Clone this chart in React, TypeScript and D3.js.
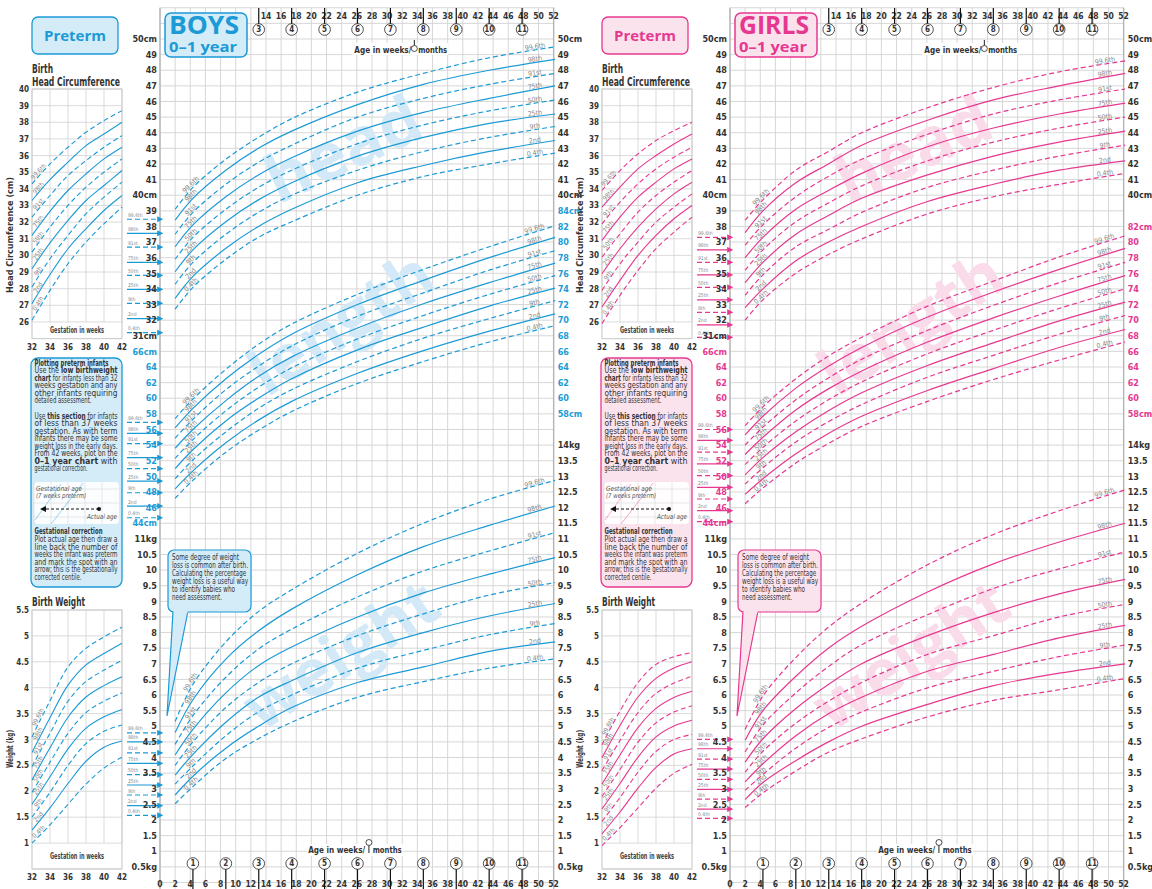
import React from 'react';
import * as d3 from 'd3';

// ---------------- data ----------------
const CENTILES = ['0.4th', '2nd', '9th', '25th', '50th', '75th', '91st', '98th', '99.6th'];
const DASHED = [true, false, true, false, true, false, true, false, true];
const AGE_WEEKS = [2, 4.35, 8.7, 13, 17.4, 26.1, 34.8, 43.5, 52.2];
const GEST_WEEKS = [32, 34, 36, 38, 40, 42];

const BOYS_HEAD = [
  [32.7, 34.1, 35.9, 37.3, 38.3, 40.0, 41.2, 42.0, 42.7],
  [33.4, 34.8, 36.6, 38.0, 39.1, 40.8, 41.9, 42.8, 43.5],
  [34.3, 35.7, 37.5, 38.9, 40.0, 41.6, 42.8, 43.7, 44.4],
  [35.1, 36.5, 38.3, 39.7, 40.8, 42.5, 43.7, 44.6, 45.2],
  [35.9, 37.3, 39.1, 40.5, 41.6, 43.3, 44.5, 45.4, 46.1],
  [36.7, 38.1, 39.9, 41.3, 42.4, 44.1, 45.3, 46.2, 47.0],
  [37.5, 38.9, 40.7, 42.1, 43.2, 45.0, 46.2, 47.1, 47.8],
  [38.4, 39.8, 41.6, 43.0, 44.1, 45.8, 47.1, 48.0, 48.7],
  [39.1, 40.5, 42.3, 43.7, 44.9, 46.6, 47.8, 48.8, 49.5],
];
const BOYS_LENGTH = [
  [47.2, 49.5, 53.1, 55.9, 58.3, 61.9, 64.7, 67.2, 69.3],
  [48.4, 50.7, 54.3, 57.2, 59.6, 63.2, 66.1, 68.6, 70.8],
  [49.7, 52.1, 55.7, 58.7, 61.1, 64.7, 67.7, 70.2, 72.5],
  [51.0, 53.4, 57.1, 60.0, 62.5, 66.2, 69.1, 71.8, 74.1],
  [52.3, 54.7, 58.4, 61.4, 63.9, 67.6, 70.6, 73.3, 75.7],
  [53.6, 56.0, 59.7, 62.8, 65.3, 69.0, 72.1, 74.8, 77.3],
  [54.9, 57.3, 61.1, 64.1, 66.7, 70.5, 73.5, 76.4, 78.9],
  [56.2, 58.7, 62.5, 65.6, 68.2, 72.0, 75.1, 78.0, 80.6],
  [57.4, 59.9, 63.7, 66.9, 69.5, 73.3, 76.5, 79.4, 82.1],
];
const BOYS_WEIGHT = [
  [2.52, 3.07, 3.97, 4.6, 5.13, 5.93, 6.43, 6.86, 7.16],
  [2.8, 3.4, 4.3, 5.0, 5.6, 6.4, 6.9, 7.4, 7.7],
  [3.15, 3.73, 4.7, 5.46, 6.0, 6.86, 7.43, 7.93, 8.29],
  [3.44, 4.1, 5.13, 5.93, 6.46, 7.36, 8.0, 8.53, 8.93],
  [3.75, 4.5, 5.6, 6.4, 7.0, 7.9, 8.6, 9.2, 9.6],
  [4.08, 4.9, 6.07, 6.94, 7.54, 8.5, 9.27, 9.87, 10.4],
  [4.42, 5.34, 6.57, 7.47, 8.11, 9.14, 9.97, 10.61, 11.2],
  [4.8, 5.85, 7.15, 8.05, 8.75, 9.85, 10.75, 11.43, 12.05],
  [5.15, 6.34, 7.7, 8.67, 9.37, 10.54, 11.5, 12.27, 12.87],
];
const GIRLS_HEAD = [
  [32.0, 33.3, 35.0, 36.2, 37.2, 38.8, 39.9, 40.7, 41.4],
  [32.8, 34.0, 35.8, 37.0, 38.0, 39.6, 40.7, 41.6, 42.2],
  [33.6, 34.9, 36.7, 37.8, 38.9, 40.5, 41.6, 42.5, 43.2],
  [34.4, 35.7, 37.5, 38.7, 39.8, 41.3, 42.5, 43.4, 44.1],
  [35.2, 36.5, 38.3, 39.5, 40.6, 42.2, 43.4, 44.3, 45.0],
  [36.0, 37.3, 39.1, 40.3, 41.4, 43.1, 44.3, 45.2, 45.9],
  [36.8, 38.1, 39.9, 41.2, 42.3, 43.9, 45.2, 46.1, 46.8],
  [37.6, 39.0, 40.8, 42.0, 43.2, 44.8, 46.1, 47.0, 47.8],
  [38.4, 39.7, 41.6, 42.8, 44.0, 45.6, 46.9, 47.9, 48.6],
];
const GIRLS_LENGTH = [
  [46.5, 48.5, 51.7, 54.2, 56.4, 59.6, 62.4, 64.9, 67.2],
  [47.7, 49.7, 52.9, 55.5, 57.7, 61.0, 63.8, 66.5, 68.8],
  [49.0, 51.1, 54.4, 57.0, 59.2, 62.7, 65.5, 68.2, 70.6],
  [50.2, 52.4, 55.7, 58.4, 60.7, 64.2, 67.1, 69.9, 72.3],
  [51.5, 53.7, 57.1, 59.8, 62.1, 65.7, 68.7, 71.5, 74.0],
  [52.8, 55.0, 58.5, 61.2, 63.5, 67.2, 70.3, 73.1, 75.7],
  [54.0, 56.3, 59.8, 62.6, 65.0, 68.7, 71.9, 74.8, 77.4],
  [55.3, 57.7, 61.3, 64.1, 66.5, 70.4, 73.6, 76.5, 79.2],
  [56.5, 58.9, 62.5, 65.4, 67.8, 71.8, 75.0, 78.1, 80.8],
];
const GIRLS_WEIGHT = [
  [2.4, 2.87, 3.57, 4.17, 4.6, 5.3, 5.83, 6.17, 6.53],
  [2.65, 3.2, 3.9, 4.5, 5.0, 5.7, 6.3, 6.7, 7.0],
  [2.95, 3.46, 4.3, 4.96, 5.46, 6.23, 6.76, 7.23, 7.6],
  [3.22, 3.8, 4.7, 5.4, 5.93, 6.76, 7.3, 7.83, 8.23],
  [3.53, 4.2, 5.1, 5.8, 6.4, 7.3, 7.9, 8.5, 8.9],
  [3.85, 4.6, 5.57, 6.34, 7.0, 7.9, 8.64, 9.24, 9.7],
  [4.18, 5.04, 6.07, 6.91, 7.61, 8.57, 9.41, 10.04, 10.58],
  [4.55, 5.5, 6.6, 7.5, 8.2, 9.3, 10.2, 10.9, 11.5],
  [4.9, 5.97, 7.2, 8.17, 8.94, 10.17, 11.14, 11.9, 12.57],
];

const BOYS_PRETERM_HEAD = [
  [26.1, 27.9, 29.5, 30.8, 31.9, 32.9],
  [27.1, 28.85, 30.4, 31.6, 32.7, 33.6],
  [28.1, 29.8, 31.2, 32.5, 33.5, 34.4],
  [29.2, 30.75, 32.1, 33.3, 34.2, 35.1],
  [30.2, 31.7, 33.0, 34.1, 35.0, 35.8],
  [31.2, 32.65, 33.9, 34.9, 35.8, 36.5],
  [32.3, 33.6, 34.8, 35.7, 36.5, 37.2],
  [33.3, 34.55, 35.6, 36.6, 37.3, 38.0],
  [34.3, 35.5, 36.5, 37.4, 38.1, 38.7],
];
const BOYS_PRETERM_WEIGHT = [
  [1.0, 1.35, 1.75, 2.14, 2.45, 2.66],
  [1.25, 1.68, 2.15, 2.58, 2.85, 2.97],
  [1.5, 1.98, 2.5, 2.92, 3.16, 3.28],
  [1.75, 2.28, 2.82, 3.22, 3.44, 3.58],
  [1.98, 2.56, 3.12, 3.52, 3.74, 3.9],
  [2.22, 2.84, 3.43, 3.82, 4.04, 4.21],
  [2.48, 3.12, 3.74, 4.12, 4.34, 4.53],
  [2.75, 3.42, 4.05, 4.44, 4.66, 4.86],
  [3.05, 3.75, 4.4, 4.76, 4.98, 5.17],
];
const GIRLS_PRETERM_HEAD = [
  [25.9, 27.6, 29.1, 30.4, 31.4, 32.3],
  [26.9, 28.5, 30.0, 31.2, 32.2, 33.0],
  [27.9, 29.5, 30.8, 32.0, 32.9, 33.7],
  [28.9, 30.4, 31.7, 32.8, 33.7, 34.4],
  [29.9, 31.3, 32.6, 33.6, 34.4, 35.1],
  [30.9, 32.3, 33.5, 34.4, 35.2, 35.8],
  [31.9, 33.2, 34.3, 35.2, 35.9, 36.5],
  [32.9, 34.1, 35.2, 36.0, 36.7, 37.3],
  [33.9, 35.1, 36.1, 36.9, 37.5, 38.0],
];
const GIRLS_PRETERM_WEIGHT = [
  [0.95, 1.3, 1.68, 2.06, 2.35, 2.52],
  [1.18, 1.6, 2.06, 2.46, 2.72, 2.82],
  [1.42, 1.88, 2.37, 2.77, 3.0, 3.1],
  [1.66, 2.15, 2.66, 3.05, 3.26, 3.37],
  [1.9, 2.42, 2.95, 3.32, 3.53, 3.65],
  [2.14, 2.7, 3.23, 3.6, 3.81, 3.93],
  [2.4, 2.98, 3.52, 3.89, 4.09, 4.22],
  [2.65, 3.27, 3.82, 4.18, 4.38, 4.5],
  [2.9, 3.55, 4.1, 4.45, 4.6, 4.68],
];

// birth centile arrows (0.4th .. 99.6th)
const BOYS_ARROW_HEAD = [31.2, 32.1, 33.08, 33.97, 34.87, 35.7, 36.67, 37.56, 38.46];
const BOYS_ARROW_LENGTH = [44.7, 46.2, 47.9, 49.4, 51.0, 52.4, 54.2, 55.5, 56.9];
const BOYS_ARROW_WEIGHT = [2.15, 2.46, 2.8, 3.12, 3.45, 3.81, 4.15, 4.5, 4.79];
const GIRLS_ARROW_HEAD = [30.9, 31.7, 32.5, 33.3, 34.1, 34.9, 35.7, 36.5, 37.3];
const GIRLS_ARROW_LENGTH = [44.2, 45.6, 47.1, 48.6, 50.1, 51.6, 53.1, 54.6, 56.0];
const GIRLS_ARROW_WEIGHT = [2.05, 2.35, 2.67, 2.98, 3.3, 3.63, 3.95, 4.28, 4.58];

// tick labels
const HEAD_LEFT_TICKS = [50, 49, 48, 47, 46, 45, 44, 43, 42, 41, 40, 39, 38, 37, 36, 35, 34, 33, 32, 31];
const HEAD_RIGHT_TICKS = [50, 49, 48, 47, 46, 45, 44, 43, 42, 41, 40];
const LENGTH_LEFT_TICKS = [66, 64, 62, 60, 58, 56, 54, 52, 50, 48, 46, 44];
const BOYS_LENGTH_RIGHT_TICKS = [84, 82, 80, 78, 76, 74, 72, 70, 68, 66, 64, 62, 60, 58];
const GIRLS_LENGTH_RIGHT_TICKS = [82, 80, 78, 76, 74, 72, 70, 68, 66, 64, 62, 60, 58];
const WEIGHT_LEFT_TICKS = [11, 10.5, 10, 9.5, 9, 8.5, 8, 7.5, 7, 6.5, 6, 5.5, 5, 4.5, 4, 3.5, 3, 2.5, 2, 1.5, 1, 0.5];
const WEIGHT_RIGHT_TICKS = [14, 13.5, 13, 12.5, 12, 11.5, 11, 10.5, 10, 9.5, 9, 8.5, 8, 7.5, 7, 6.5, 6, 5.5, 5, 4.5, 4, 3.5, 3, 2.5, 2, 1.5, 1, 0.5];
const WEEK_TICKS_BOTTOM = [0, 2, 4, 6, 8, 10, 12, 14, 16, 18, 20, 22, 24, 26, 28, 30, 32, 34, 36, 38, 40, 42, 44, 46, 48, 50, 52];
const WEEK_TICKS_TOP = [14, 16, 18, 20, 22, 24, 26, 28, 30, 32, 34, 36, 38, 40, 42, 44, 46, 48, 50, 52];
const MONTHS_BOTTOM = [1, 2, 3, 4, 5, 6, 7, 8, 9, 10, 11];
const MONTHS_TOP = [3, 4, 5, 6, 7, 8, 9, 10, 11];
const PRE_HEAD_TICKS = [40, 39, 38, 37, 36, 35, 34, 33, 32, 31, 30, 29, 28, 27, 26];
const PRE_WEIGHT_TICKS = [5.5, 5, 4.5, 4, 3.5, 3, 2.5, 2, 1.5, 1];

const INFO_LINES: [string, boolean][][] = [
  [['Plotting preterm infants', true]],
  [['Use the ', false], ['low birthweight', true]],
  [['chart', true], [' for infants less than 32', false]],
  [['weeks gestation and any', false]],
  [['other infants requiring', false]],
  [['detailed assessment.', false]],
  [['Use ', false], ['this section', true], [' for infants', false]],
  [['of less than 37 weeks', false]],
  [['gestation. As with term', false]],
  [['infants there may be some', false]],
  [['weight loss in the early days.', false]],
  [['From 42 weeks, plot on the', false]],
  [['0–1 year chart', true], [' with', false]],
  [['gestational correction.', false]],
];
const INFO_Y = [365.5, 373, 380.5, 388, 395.5, 403, 418.5, 426, 433.5, 441, 448.5, 456, 463.5, 471];
const INFO_W = [74, 83, 83, 83, 83, 57, 83, 83, 83, 83, 83, 83, 83, 53];
const CORR_LINES = [
  'Plot actual age then draw a',
  'line back the number of',
  'weeks the infant was preterm',
  'and mark the spot with an',
  'arrow; this is the gestationally',
  'corrected centile.',
];
const CORR_W = [83, 83, 83, 83, 83, 47];
const CALLOUT_LINES = [
  'Some degree of weight',
  'loss is common after birth.',
  'Calculating the percentage',
  'weight loss is a useful way',
  'to identify babies who',
  'need assessment.',
];
const CALLOUT_W = [67, 76, 74, 76, 63, 50];

// ---------------- layout constants ----------------
const FONT = "'Liberation Sans Narrow','DejaVu Sans Condensed','Arial Narrow',sans-serif";
const FONT_H = "'Open Sans','Noto Sans','DejaVu Sans',sans-serif";
const U = 15.62;
const Y0 = 39;
const KX = 7.57;
const rowY = (r: number) => Y0 + r * U;
const GRID = '#d2d2d2';
const TXT = '#333';

const interp = (xs: number[], vs: number[], x: number) => {
  for (let i = 0; i < xs.length - 1; i++) {
    if (x <= xs[i + 1]) {
      const t = (x - xs[i]) / (xs[i + 1] - xs[i]);
      return vs[i] + t * (vs[i + 1] - vs[i]);
    }
  }
  return vs[vs.length - 1];
};

type Cfg = {
  id: string; dx: number; color: string; fill: string; wm: string; title: string;
  head: number[][]; len: number[][]; wt: number[][]; pHead: number[][]; pWt: number[][];
  arrH: number[]; arrL: number[]; arrW: number[]; lenRight: number[];
};

function CurveSet({ data, xs, xScale, yScale, color, labelAt, labelSize, width }: any) {
  const line = d3.line<number>().x((_, i) => xScale(xs[i])).y((v) => yScale(v)).curve(d3.curveCatmullRom.alpha(0.5));
  return (
    <g>
      {data.map((row: number[], i: number) => (
        <path key={'c' + i} d={line(row) || ''} fill="none" stroke={color} strokeWidth={width || 1.2}
          strokeDasharray={DASHED[i] ? '5,3' : undefined} />
      ))}
      {labelAt.map((w: number, li: number) =>
        data.map((row: number[], i: number) => {
          const x1 = xScale(w - 0.6), x2 = xScale(w + 0.6);
          const y1 = yScale(interp(xs, row, w - 0.6)), y2 = yScale(interp(xs, row, w + 0.6));
          const ang = (Math.atan2(y2 - y1, x2 - x1) * 180) / Math.PI;
          const cx = xScale(w), cy = yScale(interp(xs, row, w));
          return (
            <text key={'l' + li + '-' + i} transform={`translate(${cx},${cy}) rotate(${ang})`} dy={-1.2}
              textAnchor="middle" fontSize={labelSize} fill="#8a8a8a" fontFamily={FONT}>{CENTILES[i]}</text>
          );
        })
      )}
    </g>
  );
}

function Preterm({ cfg, kind }: { cfg: Cfg; kind: 'head' | 'weight' }) {
  const dx = cfg.dx;
  const xP = d3.scaleLinear().domain([32, 42]).range([32 + dx, 122 + dx]);
  const isHead = kind === 'head';
  const yP = isHead
    ? d3.scaleLinear().domain([40, 25]).range([89, 89 + 15 * 16.64])
    : d3.scaleLinear().domain([5.5, 0.5]).range([610, 610 + 5 * 51.8]);
  const ticks = isHead ? PRE_HEAD_TICKS : PRE_WEIGHT_TICKS;
  const lowest = isHead ? 26 : 1;
  const bottom = isHead ? 25 : 0.5;
  const hLines = isHead ? d3.range(25, 41, 1) : d3.range(0.5, 5.51, 0.5);
  const data = isHead ? cfg.pHead : cfg.pWt;
  return (
    <g>
      <rect x={xP(32)} y={yP(ticks[0])} width={xP(42) - xP(32)} height={yP(bottom) - yP(ticks[0])} fill="#fff" stroke="#c4c4c4" />
      {hLines.map((v) => (
        <line key={'h' + v} x1={xP(32)} x2={xP(42)} y1={yP(v)} y2={yP(v)} stroke={GRID} strokeWidth={0.8} />
      ))}
      {GEST_WEEKS.map((g) => (
        <line key={'v' + g} x1={xP(g)} x2={xP(g)} y1={yP(ticks[0])} y2={yP(lowest)} stroke={GRID} strokeWidth={0.8} />
      ))}
      <text x={(xP(32) + xP(42)) / 2} y={(yP(lowest) + yP(bottom)) / 2 + 3} textAnchor="middle" fontSize={8}
        fontWeight="bold" fill="#444" fontFamily={FONT} textLength={54} lengthAdjust="spacingAndGlyphs">Gestation in weeks</text>
      {ticks.map((t) => (
        <text key={'t' + t} x={xP(32) - 3} y={yP(t) + 3} textAnchor="end" fontSize={8} fontWeight="bold" fill={TXT} fontFamily={FONT}>{t}</text>
      ))}
      {GEST_WEEKS.map((g) => (
        <text key={'g' + g} x={xP(g)} y={yP(bottom) + 11} textAnchor="middle" fontSize={8} fontWeight="bold" fill={TXT} fontFamily={FONT}>{g}</text>
      ))}
      <text transform={`translate(${13 + dx},${isHead ? 235 : 749}) rotate(-90)`} textAnchor="middle" fontSize={8}
        fontWeight="bold" fill={TXT} fontFamily={FONT} textLength={isHead ? 116 : 38} lengthAdjust="spacingAndGlyphs">
        {isHead ? 'Head Circumference (cm)' : 'Weight (kg)'}
      </text>
      <CurveSet data={data} xs={GEST_WEEKS} xScale={xP} yScale={yP} color={cfg.color} labelAt={[33]} labelSize={6.5} width={1.1} />
    </g>
  );
}

function InfoBox({ cfg }: { cfg: Cfg }) {
  const dx = cfg.dx;
  const x = 31 + dx;
  return (
    <g fontFamily={FONT} fill={TXT}>
      <rect x={x} y={358} width={91} height={229} rx={7} fill={cfg.fill} stroke={cfg.color} strokeWidth={1.3} />
      {INFO_LINES.map((segs, i) => (
        <text key={i} x={x + 3.5} y={INFO_Y[i]} fontSize={i === 0 ? 8.4 : 8}
          textLength={INFO_W[i]} lengthAdjust="spacingAndGlyphs">
          {segs.map(([s, b], j) => (
            <tspan key={j} fontWeight={b ? 'bold' : 'normal'}>{s}</tspan>
          ))}
        </text>
      ))}
      <rect x={x + 3} y={482} width={85} height={42} rx={4} fill="#fff" opacity={0.9} />
      {[0, 1, 2, 3, 4].map((k) => (
        <line key={'ig' + k} x1={x + 3 + k * 17} x2={x + 3 + k * 17} y1={482} y2={524} stroke="#ddd" strokeWidth={0.7} />
      ))}
      {[0, 1, 2].map((k) => (
        <line key={'ih' + k} x1={x + 3} x2={x + 88} y1={489 + k * 14} y2={489 + k * 14} stroke="#ddd" strokeWidth={0.7} />
      ))}
      <line x1={x + 4} y1={520} x2={x + 30} y2={484} stroke={cfg.color} strokeWidth={0.7} opacity={0.6} />
      <line x1={x + 20} y1={524} x2={x + 52} y2={483} stroke={cfg.color} strokeWidth={0.7} opacity={0.6} />
      <line x1={x + 68} y1={509} x2={x + 14} y2={509} stroke="#111" strokeWidth={1} strokeDasharray="3,2" />
      <path d={`M${x + 9},509 l6,-3 l0,6 z`} fill="#111" />
      <circle cx={x + 68} cy={509} r={2} fill="#111" />
      <text x={x + 5} y={491} fontSize={7} fontStyle="italic" fill="#555" textLength={46} lengthAdjust="spacingAndGlyphs">Gestational age</text>
      <text x={x + 5} y={498} fontSize={7} fontStyle="italic" fill="#555" textLength={50} lengthAdjust="spacingAndGlyphs">(7 weeks preterm)</text>
      <text x={x + 86} y={519} fontSize={7} fontStyle="italic" fill="#555" textAnchor="end" textLength={30} lengthAdjust="spacingAndGlyphs">Actual age</text>
      <text x={x + 3.5} y={534} fontSize={9} fontWeight="bold" textLength={68} lengthAdjust="spacingAndGlyphs">Gestational correction</text>
      {CORR_LINES.map((s, i) => (
        <text key={'c' + i} x={x + 3.5} y={542 + i * 7.5} fontSize={8}
          textLength={CORR_W[i]} lengthAdjust="spacingAndGlyphs">{s}</text>
      ))}
    </g>
  );
}

function Sex({ cfg }: { cfg: Cfg }) {
  const dx = cfg.dx;
  const x0 = 160 + dx;
  const xM = d3.scaleLinear().domain([0, 52]).range([x0, x0 + 52 * KX]);
  const yH = d3.scaleLinear().domain([50, 31]).range([rowY(0), rowY(19)]);
  const yL = d3.scaleLinear().domain([84, 44]).range([rowY(11), rowY(31)]);
  const yW = d3.scaleLinear().domain([14, 0.5]).range([rowY(26), rowY(53)]);
  const xR = xM(52);
  const monthW = (m: number) => (m * 52.18) / 12;
  const rows = d3.range(-2, 55);
  const gridTop = rowY(-2), gridBot = rowY(54.4);
  const markerId = 'arr' + cfg.id;

  const arrows = (vals: number[], ys: any) =>
    vals.map((v, i) => {
      const y = ys(v);
      return (
        <g key={'a' + i}>
          <line x1={x0 - 33} x2={x0 + 2} y1={y} y2={y} stroke={cfg.color} strokeWidth={1.2}
            strokeDasharray={DASHED[i] ? '5,3' : undefined} markerEnd={`url(#${markerId})`} />
          <text x={x0 - 32} y={y - 2.5} fontSize={5} fill="#888" fontFamily={FONT}>{CENTILES[i]}</text>
        </g>
      );
    });

  const fmtCm = (v: number, unit: boolean) => (unit ? `${v}cm` : `${v}`);
  const fmtKg = (v: number, i: number, arr: number[]) => (i === 0 || i === arr.length - 1 ? `${v}kg` : `${v}`);

  return (
    <g>
      {/* main grid */}
      {rows.map((r) => (
        <line key={'gh' + r} x1={x0} x2={xR} y1={rowY(r)} y2={rowY(r)} stroke={GRID} strokeWidth={0.9} />
      ))}
      {WEEK_TICKS_BOTTOM.map((w) => (
        <line key={'gv' + w} x1={xM(w)} x2={xM(w)} y1={gridTop} y2={gridBot} stroke={GRID} strokeWidth={0.9} />
      ))}
      <line x1={x0} x2={x0} y1={gridTop} y2={gridBot} stroke="#b5b5b5" strokeWidth={1.4} />
      <line x1={xR} x2={xR} y1={gridTop} y2={gridBot} stroke="#b5b5b5" strokeWidth={1.4} />

      {/* watermarks */}
      <g fontFamily={FONT_H} fontWeight="bold" fill={cfg.wm} textAnchor="middle">
        <text transform={`translate(${xM(25.5)},${rowY(8.4)}) rotate(-25)`} fontSize={66}>head</text>
        <text transform={`translate(${xM(25.5)},${rowY(19.4)}) rotate(-33)`} fontSize={64}>length</text>
        <text transform={`translate(${xM(25.5)},${rowY(40.6)}) rotate(-33)`} fontSize={64}>weight</text>
      </g>

      {/* curves */}
      <CurveSet data={cfg.head} xs={AGE_WEEKS} xScale={xM} yScale={yH} color={cfg.color} labelAt={[4.4, 49.6]} labelSize={7} />
      <CurveSet data={cfg.len} xs={AGE_WEEKS} xScale={xM} yScale={yL} color={cfg.color} labelAt={[4.4, 49.6]} labelSize={7} />
      <CurveSet data={cfg.wt} xs={AGE_WEEKS} xScale={xM} yScale={yW} color={cfg.color} labelAt={[4.4, 49.6]} labelSize={7} />

      {/* birth arrows */}
      {arrows(cfg.arrH, yH)}
      {arrows(cfg.arrL, yL)}
      {arrows(cfg.arrW, yW)}

      {/* left labels */}
      <g fontFamily={FONT} fontSize={9} fontWeight="bold" textAnchor="end">
        {HEAD_LEFT_TICKS.map((v, i) => (
          <text key={'lh' + v} x={x0 - 3} y={yH(v) + 3.2} fill={TXT}>{fmtCm(v, i === 0 || v === 40 || i === HEAD_LEFT_TICKS.length - 1)}</text>
        ))}
        {LENGTH_LEFT_TICKS.map((v, i) => (
          <text key={'ll' + v} x={x0 - 3} y={yL(v) + 3.2} fill={cfg.color}>{fmtCm(v, i === 0 || i === LENGTH_LEFT_TICKS.length - 1)}</text>
        ))}
        {WEIGHT_LEFT_TICKS.map((v, i, a) => (
          <text key={'lw' + v} x={x0 - 3} y={yW(v) + 3.2} fill={TXT}>{fmtKg(v, i, a)}</text>
        ))}
      </g>
      {/* right labels */}
      <g fontFamily={FONT} fontSize={9} fontWeight="bold" textAnchor="start">
        {HEAD_RIGHT_TICKS.map((v, i) => (
          <text key={'rh' + v} x={xR + 4} y={yH(v) + 3.2} fill={TXT}>{fmtCm(v, i === 0 || i === HEAD_RIGHT_TICKS.length - 1)}</text>
        ))}
        {cfg.lenRight.map((v, i) => (
          <text key={'rl' + v} x={xR + 4} y={yL(v) + 3.2} fill={cfg.color}>{fmtCm(v, i === 0 || i === cfg.lenRight.length - 1)}</text>
        ))}
        {WEIGHT_RIGHT_TICKS.map((v, i, a) => (
          <text key={'rw' + v} x={xR + 4} y={yW(v) + 3.2} fill={TXT}>{fmtKg(v, i, a)}</text>
        ))}
      </g>

      {/* top & bottom axes */}
      <g fontFamily={FONT} fontSize={8.5} fontWeight="bold" fill={TXT} textAnchor="middle">
        {WEEK_TICKS_TOP.map((w) => (
          <text key={'tw' + w} x={xM(w)} y={19}>{w}</text>
        ))}
        {MONTHS_TOP.map((m) => (
          <g key={'tm' + m}>
            <line x1={xM(monthW(m))} x2={xM(monthW(m))} y1={8} y2={24} stroke="#111" strokeWidth={1.2} />
            <circle cx={xM(monthW(m))} cy={29.5} r={5.8} fill="#fff" stroke="#222" strokeWidth={0.8} />
            <text x={xM(monthW(m))} y={32.3} fontSize={8}>{m}</text>
          </g>
        ))}
        {WEEK_TICKS_BOTTOM.map((w) => (
          <text key={'bw' + w} x={xM(w)} y={887}>{w}</text>
        ))}
        {MONTHS_BOTTOM.map((m) => (
          <g key={'bm' + m}>
            <line x1={xM(monthW(m))} x2={xM(monthW(m))} y1={869} y2={889} stroke="#111" strokeWidth={1.2} />
            <circle cx={xM(monthW(m))} cy={863.5} r={5.8} fill="#fff" stroke="#222" strokeWidth={0.8} />
            <text x={xM(monthW(m))} y={866.3} fontSize={8}>{m}</text>
          </g>
        ))}
      </g>
      {/* axis titles */}
      <g fontFamily={FONT} fontSize={9.5} fontWeight="bold" fill={TXT}>
        <rect x={xM(33.6) - 62} y={43} width={96} height={12} fill="#fff" />
        <text x={xM(33.2)} y={52.5} textAnchor="end" textLength={57} lengthAdjust="spacingAndGlyphs">Age in weeks/</text>
        <line x1={xM(33.6)} x2={xM(33.6)} y1={40} y2={45.5} stroke="#222" strokeWidth={1} />
        <circle cx={xM(33.6)} cy={48.5} r={3} fill="#fff" stroke="#222" strokeWidth={0.8} />
        <text x={xM(34.1)} y={52.5} textLength={29} lengthAdjust="spacingAndGlyphs">months</text>
        <rect x={xM(27.6) - 62} y={844} width={96} height={12} fill="#fff" />
        <text x={xM(27.1)} y={852.5} textAnchor="end" textLength={57} lengthAdjust="spacingAndGlyphs">Age in weeks/</text>
        <circle cx={xM(27.6)} cy={842.5} r={3} fill="#fff" stroke="#222" strokeWidth={0.8} />
        <line x1={xM(27.6)} x2={xM(27.6)} y1={845.5} y2={853} stroke="#222" strokeWidth={1} />
        <text x={xM(28.1)} y={852.5} textLength={29} lengthAdjust="spacingAndGlyphs">months</text>
      </g>

      {/* title box */}
      <rect x={x0 + 5} y={13} width={82} height={44} rx={6} fill={cfg.fill} stroke={cfg.color} strokeWidth={1.5} />
      <text x={x0 + 9} y={34} fontFamily={FONT_H} fontWeight="bold" fontSize={25} fill={cfg.color}
        textLength={70} lengthAdjust="spacingAndGlyphs">{cfg.title}</text>
      <text x={x0 + 9} y={52} fontFamily={FONT_H} fontWeight="bold" fontSize={15} fill={cfg.color}
        textLength={68} lengthAdjust="spacingAndGlyphs">0–1 year</text>

      {/* weight loss callout */}
      <path d={`M${x0 + 13},${611} L${x0 + 7},${716} L${x0 + 28},${611}`} fill={cfg.fill} stroke={cfg.color} strokeWidth={1.2} />
      <rect x={x0 + 8} y={550} width={83} height={62} rx={6} fill={cfg.fill} stroke={cfg.color} strokeWidth={1.2} />
      <rect x={x0 + 13.6} y={609} width={14} height={4} fill={cfg.fill} />
      <g fontFamily={FONT} fontSize={8} fill={TXT}>
        {CALLOUT_LINES.map((s, i) => (
          <text key={'cl' + i} x={x0 + 12} y={559.5 + i * 8.1} textLength={CALLOUT_W[i]} lengthAdjust="spacingAndGlyphs">{s}</text>
        ))}
      </g>

      {/* left preterm side */}
      <rect x={32 + dx} y={17} width={86} height={37} rx={6} fill={cfg.fill} stroke={cfg.color} strokeWidth={1.3} />
      <text x={75 + dx} y={40.5} textAnchor="middle" fontFamily={FONT_H} fontWeight="bold" fontSize={15} fill={cfg.color}>Preterm</text>
      <text x={32 + dx} y={73} fontFamily={FONT} fontWeight="bold" fontSize={11.5} fill={TXT} textLength={21} lengthAdjust="spacingAndGlyphs">Birth</text>
      <text x={32 + dx} y={86} fontFamily={FONT} fontWeight="bold" fontSize={11.5} fill={TXT} textLength={88} lengthAdjust="spacingAndGlyphs">Head Circumference</text>
      <text x={32 + dx} y={606} fontFamily={FONT} fontWeight="bold" fontSize={11.5} fill={TXT} textLength={53} lengthAdjust="spacingAndGlyphs">Birth Weight</text>
      <Preterm cfg={cfg} kind="head" />
      <Preterm cfg={cfg} kind="weight" />
      <InfoBox cfg={cfg} />
    </g>
  );
}

const BOYS: Cfg = {
  id: 'b', dx: 0, color: '#1b9ad6', fill: '#d4ebf8', wm: '#d3e9f7', title: 'BOYS',
  head: BOYS_HEAD, len: BOYS_LENGTH, wt: BOYS_WEIGHT, pHead: BOYS_PRETERM_HEAD, pWt: BOYS_PRETERM_WEIGHT,
  arrH: BOYS_ARROW_HEAD, arrL: BOYS_ARROW_LENGTH, arrW: BOYS_ARROW_WEIGHT, lenRight: BOYS_LENGTH_RIGHT_TICKS,
};
const GIRLS: Cfg = {
  id: 'g', dx: 570, color: '#e6388f', fill: '#fbe3ee', wm: '#f9dbe9', title: 'GIRLS',
  head: GIRLS_HEAD, len: GIRLS_LENGTH, wt: GIRLS_WEIGHT, pHead: GIRLS_PRETERM_HEAD, pWt: GIRLS_PRETERM_WEIGHT,
  arrH: GIRLS_ARROW_HEAD, arrL: GIRLS_ARROW_LENGTH, arrW: GIRLS_ARROW_WEIGHT, lenRight: GIRLS_LENGTH_RIGHT_TICKS,
};

export default function App() {
  return (
    <svg width={1152} height={889} viewBox="0 0 1152 889" style={{ position: 'absolute', left: 0, top: 0, display: 'block', background: '#fff' }}>
      <defs>
        <marker id="arrb" viewBox="0 0 10 10" refX={8} refY={5} markerWidth={5} markerHeight={5} orient="auto" markerUnits="strokeWidth">
          <path d="M0,0 L10,5 L0,10 z" fill={BOYS.color} />
        </marker>
        <marker id="arrg" viewBox="0 0 10 10" refX={8} refY={5} markerWidth={5} markerHeight={5} orient="auto" markerUnits="strokeWidth">
          <path d="M0,0 L10,5 L0,10 z" fill={GIRLS.color} />
        </marker>
      </defs>
      <rect x={0} y={0} width={1152} height={889} fill="#fff" />
      <Sex cfg={BOYS} />
      <Sex cfg={GIRLS} />
    </svg>
  );
}
